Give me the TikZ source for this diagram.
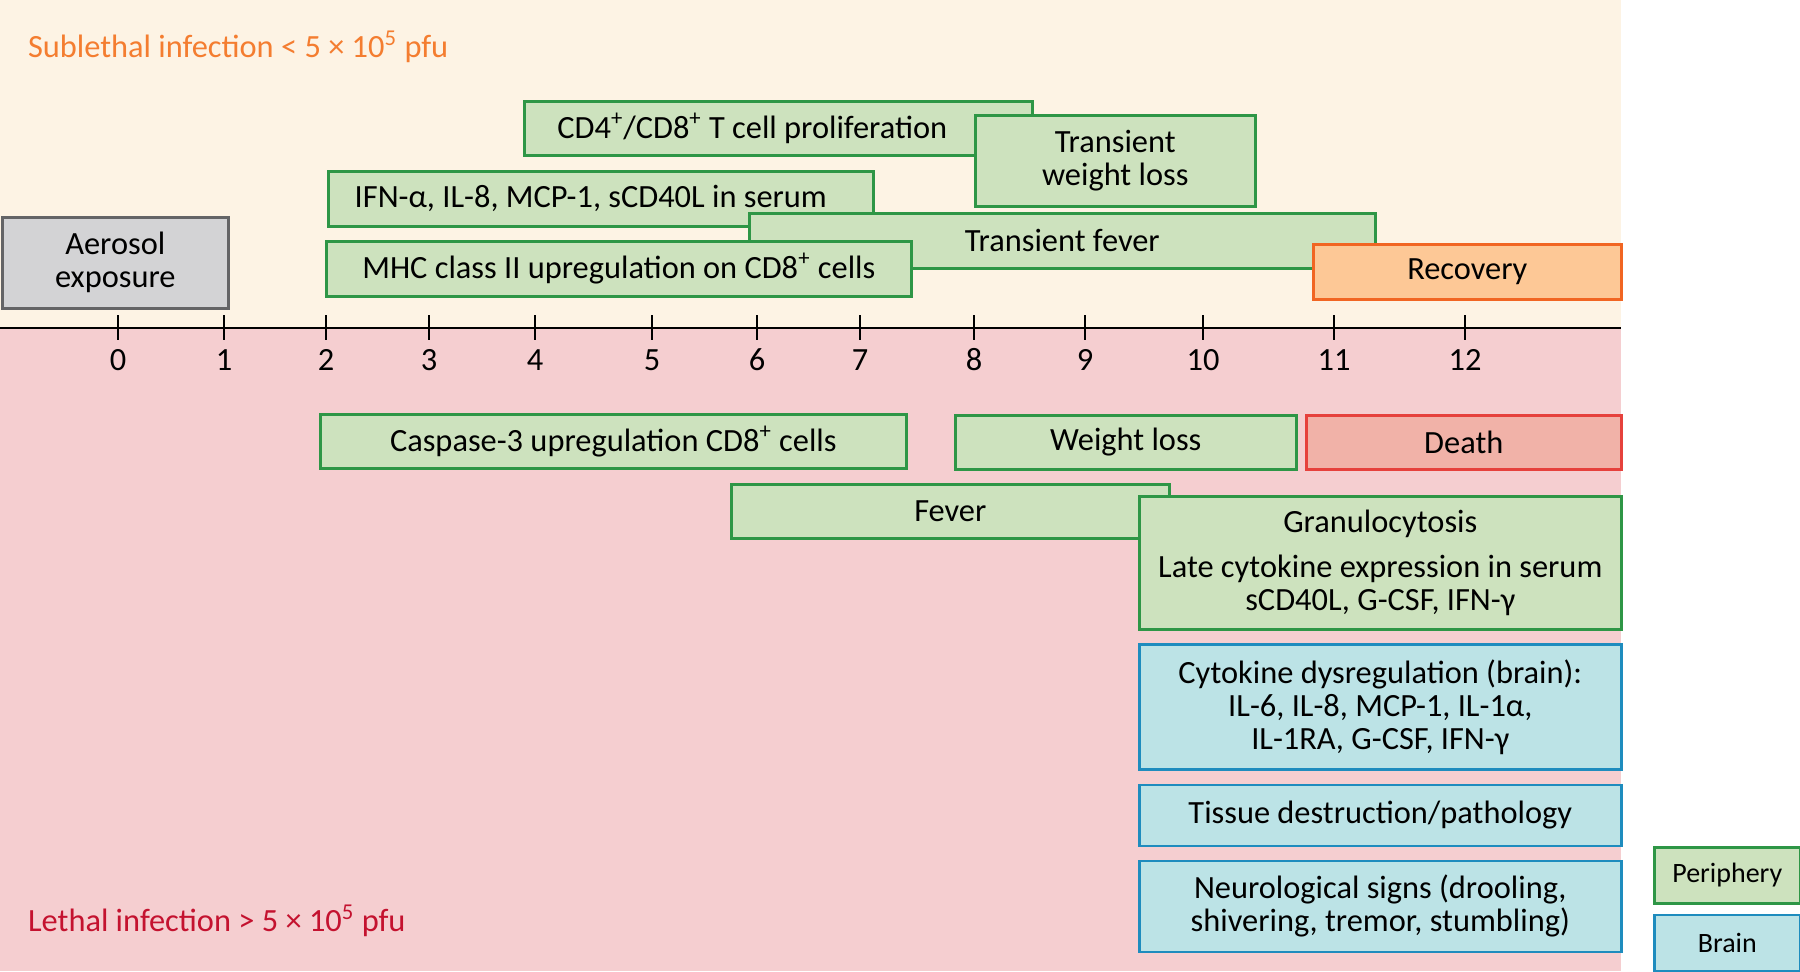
\documentclass[tikz,border=0pt]{standalone}
\usepackage{fontspec}
\setmainfont{Carlito}
\usetikzlibrary{positioning}
\definecolor{creambg}{RGB}{253,243,228}
\definecolor{pinkbg}{RGB}{245,206,208}
\definecolor{greenfill}{RGB}{205,226,190}
\definecolor{greenline}{RGB}{46,150,70}
\definecolor{grayfill}{RGB}{211,211,213}
\definecolor{grayline}{RGB}{100,100,102}
\definecolor{recfill}{RGB}{253,200,150}
\definecolor{recline}{RGB}{241,101,34}
\definecolor{deathfill}{RGB}{241,178,168}
\definecolor{deathline}{RGB}{230,65,60}
\definecolor{bluefill}{RGB}{188,227,230}
\definecolor{blueline}{RGB}{30,140,190}
\definecolor{sublethaltxt}{RGB}{244,125,48}
\definecolor{lethaltxt}{RGB}{196,18,47}
\tikzset{
  bar/.style 2 args={rectangle, draw=greenline, fill=greenfill, line width=1.3pt, minimum width=#1, minimum height=#2, anchor=north west, align=center, inner sep=2pt},
  brainbar/.style 2 args={bar={#1}{#2}, draw=blueline, fill=bluefill},
  legendbox/.style={bar={73pt}{28pt}, font=\fontsize{14}{15}\selectfont},
  tickmark/.style={line width=0.9pt},
}
\begin{document}
\begin{tikzpicture}[x=0.5pt, y=-0.5pt, font=\fontsize{16.2}{16.5}\selectfont]
  \useasboundingbox (0,0) rectangle (1800,971);
  % two regions and the day axis
  \fill[creambg] (0,0) rectangle (1621,328);
  \fill[pinkbg] (0,328) rectangle (1621,971);
  \draw[line width=1.3pt] (0,328) -- (1621,328);
  \foreach \d/\x in {0/118,1/224,2/326,3/429,4/535,5/652,6/757,7/860,8/974,9/1085,10/1203,11/1334,12/1465} {
    \draw[tickmark] (\x,315) -- (\x,340);
    \node (day\d) at (\x,360) {\d};
  }

  \node[anchor=west, text=sublethaltxt] (sublethal) at (21,47) {Sublethal infection < 5 × 10\textsuperscript{5} pfu};
  \node[anchor=west, text=lethaltxt] (lethal) at (21,921) {Lethal infection > 5 × 10\textsuperscript{5} pfu};

  % sublethal course
  \node[bar={113pt}{45.5pt}, draw=grayline, fill=grayfill] (aerosol) at (1,216) {Aerosol\\exposure};
  \node[bar={254pt}{27pt}] (prolif) at (523,100) {CD4\textsuperscript{+}/CD8\textsuperscript{+} T cell proliferation\hspace*{26pt}};
  \node[bar={140pt}{45.5pt}] (tweight) at (974,114) {Transient\\weight loss};
  \node[bar={272.5pt}{27.5pt}] (serum) at (327,170) {IFN-α, IL-8, MCP-1, sCD40L in serum\hspace*{10pt}};
  \node[bar={313pt}{27.5pt}] (tfever) at (748,212) {Transient fever};
  \node[bar={292.5pt}{27.5pt}] (mhc) at (325,240) {MHC class II upregulation on CD8\textsuperscript{+} cells};
  \node[bar={154pt}{27.5pt}, draw=recline, fill=recfill] (recovery) at (1312,243) {Recovery};

  % lethal course
  \node[bar={293pt}{27pt}] (caspase) at (319,413) {Caspase-3 upregulation CD8\textsuperscript{+} cells};
  \node[bar={170.5pt}{27pt}] (weight) at (954,414) {Weight loss};
  \node[bar={157.5pt}{27pt}, draw=deathline, fill=deathfill] (death) at (1305,414) {Death};
  \node[bar={219pt}{27pt}] (fever) at (730,483) {Fever};
  \node[bar={241pt}{66.5pt}] (granulo) at (1138,495) {Granulocytosis\\[6pt]Late cytokine expression in serum\\sCD40L, G-CSF, IFN-γ};
  \node[brainbar={241pt}{62.5pt}, below=6.2pt of granulo] (dysreg) {Cytokine dysregulation (brain):\\IL-6, IL-8, MCP-1, IL-1α,\\IL-1RA, G-CSF, IFN-γ};
  \node[brainbar={241pt}{30.5pt}, below=6.5pt of dysreg] (tissue) {Tissue destruction/pathology};
  \node[brainbar={241pt}{45.5pt}, below=6.2pt of tissue] (neuro) {Neurological signs (drooling,\\shivering, tremor, stumbling)};

  % legend
  \node[legendbox] (periphery) at (1653,846) {Periphery};
  \node[legendbox, draw=blueline, fill=bluefill, below=4.6pt of periphery] (brain) {Brain};
\end{tikzpicture}
\end{document}
